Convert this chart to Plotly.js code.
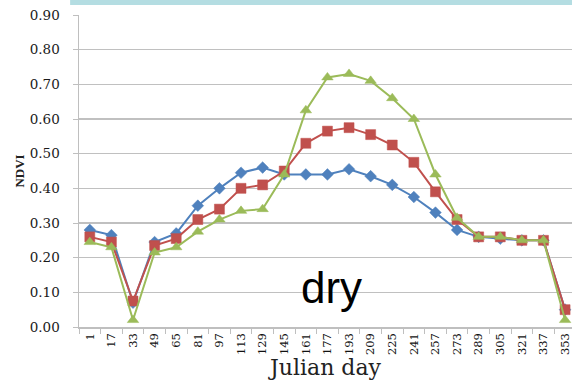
<!DOCTYPE html>
<html>
<head>
<meta charset="utf-8">
<script src="https://cdn.plot.ly/plotly-3.0.1.min.js"></script>
<style>
html,body{margin:0;padding:0;background:#fff;}
#chart{width:572px;height:385px;}
</style>
</head>
<body>
<div id="chart"></div>
<script>
var julianDays = ["1","17","33","49","65","81","97","113","129","145","161","177","193","209","225","241","257","273","289","305","321","337","353"];
var seriesBlue = [0.28,0.265,0.07,0.245,0.27,0.35,0.40,0.445,0.46,0.44,0.44,0.44,0.455,0.435,0.41,0.375,0.33,0.28,0.26,0.255,0.25,0.25,0.05];
var seriesRed = [0.26,0.245,0.075,0.235,0.255,0.31,0.34,0.40,0.41,0.45,0.53,0.565,0.575,0.555,0.525,0.475,0.39,0.31,0.26,0.26,0.25,0.25,0.05];
var seriesGreen = [0.245,0.23,0.02,0.215,0.23,0.275,0.31,0.335,0.34,0.44,0.625,0.72,0.73,0.71,0.66,0.60,0.44,0.315,0.26,0.26,0.25,0.25,0.02];
var yTickVals = [0,0.1,0.2,0.3,0.4,0.5,0.6,0.7,0.8,0.9];
var annotationText = "dry";

function mk(y, color, sym, size){
  return {
    x: julianDays, y: y, type: 'scatter', mode: 'lines+markers',
    line: {color: color, width: 2},
    marker: {symbol: sym, size: size, color: color, line: {color: color, width: 0.5}},
    cliponaxis: false, showlegend: false, hoverinfo: 'skip'
  };
}
var data = [
  mk(seriesBlue, '#4F81BD', 'diamond', 9),
  mk(seriesRed, '#C0504D', 'square', 10),
  mk(seriesGreen, '#9BBB59', 'triangle-up', 10)
];
var layout = {
  width: 572, height: 385,
  margin: {l: 79, r: 0, t: 15, b: 58, pad: 0},
  paper_bgcolor: '#ffffff', plot_bgcolor: '#ffffff',
  xaxis: {
    type: 'category', range: [-0.5, 22.32],
    tickangle: -90, tickson: 'boundaries', ticks: 'outside', ticklen: 5,
    tickcolor: '#bfbfbf', showline: true, linecolor: '#bfbfbf', linewidth: 1.5,
    showgrid: false, zeroline: false,
    tickfont: {family: 'DejaVu Serif', size: 11.5, color: '#111'},
    title: {text: 'Julian day', font: {family: 'DejaVu Serif', size: 22, color: '#222'}, standoff: 4},
    automargin: false
  },
  yaxis: {
    range: [0, 0.9], tickvals: yTickVals, tickformat: '.2f',
    showgrid: true, gridcolor: '#c0c0c0', gridwidth: 1.5,
    showline: true, linecolor: '#bfbfbf', linewidth: 1.5,
    ticks: 'outside', ticklen: 5, tickcolor: '#bfbfbf', zeroline: false,
    ticklabelstandoff: 10,
    tickfont: {family: 'DejaVu Serif', size: 13.5, color: '#1a1a1a'},
    title: {text: '<b>NDVI</b>', font: {family: 'Liberation Serif', size: 13, color: '#222'}, standoff: 2},
    automargin: false
  },
  shapes: [{
    type: 'rect', xref: 'paper', yref: 'paper',
    x0: -0.018, x1: 1.0, y0: 1.032, y1: 1.05,
    fillcolor: '#b4dde2', line: {width: 0}
  }],
  annotations: [{
    text: annotationText, xref: 'paper', yref: 'paper',
    x: 0.512, y: 0.128, xanchor: 'center', yanchor: 'middle', showarrow: false,
    font: {family: 'Liberation Sans', size: 44, color: '#000'}
  }]
};
Plotly.newPlot('chart', data, layout, {staticPlot: true, displayModeBar: false});
</script>
</body>
</html>
